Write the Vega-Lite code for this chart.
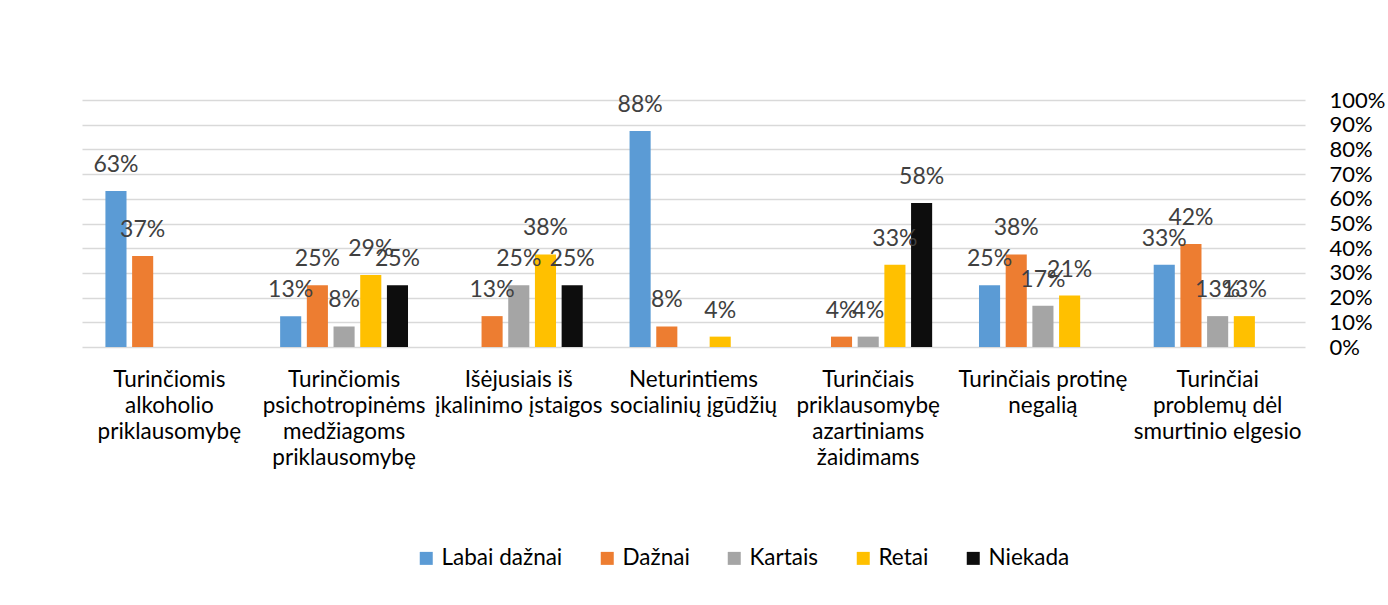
{
  "$schema": "https://vega.github.io/schema/vega-lite/v6.json",
  "width": 1223,
  "height": 247,
  "autosize": {"type": "none"},
  "padding": {"left": 82, "top": 100, "right": 83, "bottom": 258},
  "background": "white",
  "config": {
    "font": "Lato",
    "view": {"stroke": null}
  },
  "data": {
    "values": [
      {"grupe": "Turinčiomis alkoholio priklausomybę", "serija": "Labai dažnai", "reiksme": 0.632},
      {"grupe": "Turinčiomis alkoholio priklausomybę", "serija": "Dažnai", "reiksme": 0.368},
      {"grupe": "Turinčiomis alkoholio priklausomybę", "serija": "Kartais", "reiksme": 0},
      {"grupe": "Turinčiomis alkoholio priklausomybę", "serija": "Retai", "reiksme": 0},
      {"grupe": "Turinčiomis alkoholio priklausomybę", "serija": "Niekada", "reiksme": 0},
      {"grupe": "Turinčiomis psichotropinėms medžiagoms priklausomybę", "serija": "Labai dažnai", "reiksme": 0.125},
      {"grupe": "Turinčiomis psichotropinėms medžiagoms priklausomybę", "serija": "Dažnai", "reiksme": 0.25},
      {"grupe": "Turinčiomis psichotropinėms medžiagoms priklausomybę", "serija": "Kartais", "reiksme": 0.083},
      {"grupe": "Turinčiomis psichotropinėms medžiagoms priklausomybę", "serija": "Retai", "reiksme": 0.292},
      {"grupe": "Turinčiomis psichotropinėms medžiagoms priklausomybę", "serija": "Niekada", "reiksme": 0.25},
      {"grupe": "Išėjusiais iš įkalinimo įstaigos", "serija": "Labai dažnai", "reiksme": 0},
      {"grupe": "Išėjusiais iš įkalinimo įstaigos", "serija": "Dažnai", "reiksme": 0.125},
      {"grupe": "Išėjusiais iš įkalinimo įstaigos", "serija": "Kartais", "reiksme": 0.25},
      {"grupe": "Išėjusiais iš įkalinimo įstaigos", "serija": "Retai", "reiksme": 0.375},
      {"grupe": "Išėjusiais iš įkalinimo įstaigos", "serija": "Niekada", "reiksme": 0.25},
      {"grupe": "Neturintiems socialinių įgūdžių", "serija": "Labai dažnai", "reiksme": 0.875},
      {"grupe": "Neturintiems socialinių įgūdžių", "serija": "Dažnai", "reiksme": 0.083},
      {"grupe": "Neturintiems socialinių įgūdžių", "serija": "Kartais", "reiksme": 0},
      {"grupe": "Neturintiems socialinių įgūdžių", "serija": "Retai", "reiksme": 0.042},
      {"grupe": "Neturintiems socialinių įgūdžių", "serija": "Niekada", "reiksme": 0},
      {"grupe": "Turinčiais priklausomybę azartiniams žaidimams", "serija": "Labai dažnai", "reiksme": 0},
      {"grupe": "Turinčiais priklausomybę azartiniams žaidimams", "serija": "Dažnai", "reiksme": 0.042},
      {"grupe": "Turinčiais priklausomybę azartiniams žaidimams", "serija": "Kartais", "reiksme": 0.042},
      {"grupe": "Turinčiais priklausomybę azartiniams žaidimams", "serija": "Retai", "reiksme": 0.333},
      {"grupe": "Turinčiais priklausomybę azartiniams žaidimams", "serija": "Niekada", "reiksme": 0.583},
      {"grupe": "Turinčiais protinę negalią", "serija": "Labai dažnai", "reiksme": 0.25},
      {"grupe": "Turinčiais protinę negalią", "serija": "Dažnai", "reiksme": 0.375},
      {"grupe": "Turinčiais protinę negalią", "serija": "Kartais", "reiksme": 0.167},
      {"grupe": "Turinčiais protinę negalią", "serija": "Retai", "reiksme": 0.208},
      {"grupe": "Turinčiais protinę negalią", "serija": "Niekada", "reiksme": 0},
      {"grupe": "Turinčiai problemų dėl smurtinio elgesio", "serija": "Labai dažnai", "reiksme": 0.333},
      {"grupe": "Turinčiai problemų dėl smurtinio elgesio", "serija": "Dažnai", "reiksme": 0.417},
      {"grupe": "Turinčiai problemų dėl smurtinio elgesio", "serija": "Kartais", "reiksme": 0.125},
      {"grupe": "Turinčiai problemų dėl smurtinio elgesio", "serija": "Retai", "reiksme": 0.125},
      {"grupe": "Turinčiai problemų dėl smurtinio elgesio", "serija": "Niekada", "reiksme": 0}
    ]
  },
  "encoding": {
    "x": {
      "field": "grupe",
      "type": "nominal",
      "sort": [
        "Turinčiomis alkoholio priklausomybę",
        "Turinčiomis psichotropinėms medžiagoms priklausomybę",
        "Išėjusiais iš įkalinimo įstaigos",
        "Neturintiems socialinių įgūdžių",
        "Turinčiais priklausomybę azartiniams žaidimams",
        "Turinčiais protinę negalią",
        "Turinčiai problemų dėl smurtinio elgesio"
      ],
      "scale": {"paddingInner": 0.236, "paddingOuter": 0.118},
      "axis": {
        "title": null,
        "labelAngle": 0,
        "domain": false,
        "ticks": false,
        "grid": false,
        "labelFontSize": 22.5,
        "labelColor": "#000000",
        "labelPadding": 21,
        "labelLineHeight": 26,
        "labelBaseline": "top",
        "labelLimit": 400,
        "labelExpr": "datum.label == 'Turinčiomis alkoholio priklausomybę' ? ['Turinčiomis','alkoholio','priklausomybę'] : datum.label == 'Turinčiomis psichotropinėms medžiagoms priklausomybę' ? ['Turinčiomis','psichotropinėms','medžiagoms','priklausomybę'] : datum.label == 'Išėjusiais iš įkalinimo įstaigos' ? ['Išėjusiais iš','įkalinimo įstaigos'] : datum.label == 'Neturintiems socialinių įgūdžių' ? ['Neturintiems','socialinių įgūdžių'] : datum.label == 'Turinčiais priklausomybę azartiniams žaidimams' ? ['Turinčiais','priklausomybę','azartiniams','žaidimams'] : datum.label == 'Turinčiais protinę negalią' ? ['Turinčiais protinę','negalią'] : ['Turinčiai','problemų dėl','smurtinio elgesio']"
      }
    },
    "xOffset": {
      "field": "serija",
      "type": "nominal",
      "sort": ["Labai dažnai", "Dažnai", "Kartais", "Retai", "Niekada"],
      "scale": {"paddingInner": 0.21, "paddingOuter": 0.105}
    },
    "y": {
      "field": "reiksme",
      "type": "quantitative",
      "scale": {"domain": [0, 1]},
      "axis": {
        "orient": "right",
        "title": null,
        "format": ".0%",
        "values": [0, 0.1, 0.2, 0.3, 0.4, 0.5, 0.6, 0.7, 0.8, 0.9, 1],
        "labelAlign": "left",
        "labelPadding": 24,
        "ticks": false,
        "domain": false,
        "gridColor": "#D9D9D9",
        "gridWidth": 1.5,
        "labelFontSize": 22,
        "labelColor": "#000000"
      }
    }
  },
  "layer": [
    {
      "mark": {"type": "bar"},
      "encoding": {
        "color": {
          "field": "serija",
          "type": "nominal",
          "scale": {
            "domain": ["Labai dažnai", "Dažnai", "Kartais", "Retai", "Niekada"],
            "range": ["#5B9BD5", "#ED7D31", "#A5A5A5", "#FFC000", "#0D0D0D"]
          },
          "legend": {
            "title": null,
            "orient": "none",
            "direction": "horizontal",
            "legendX": 333,
            "legendY": 447,
            "padding": 0,
            "symbolType": "square",
            "symbolSize": 169,
            "symbolStrokeWidth": 0,
            "labelFontSize": 22.5,
            "labelColor": "#000000",
            "labelOffset": 4,
            "columnPadding": 33
          }
        }
      }
    },
    {
      "transform": [{"filter": "datum.reiksme > 0"}],
      "mark": {"type": "text", "baseline": "bottom", "dy": -14, "fontSize": 23, "color": "#404040"},
      "encoding": {
        "text": {"field": "reiksme", "type": "quantitative", "format": ".0%"}
      }
    }
  ]
}
